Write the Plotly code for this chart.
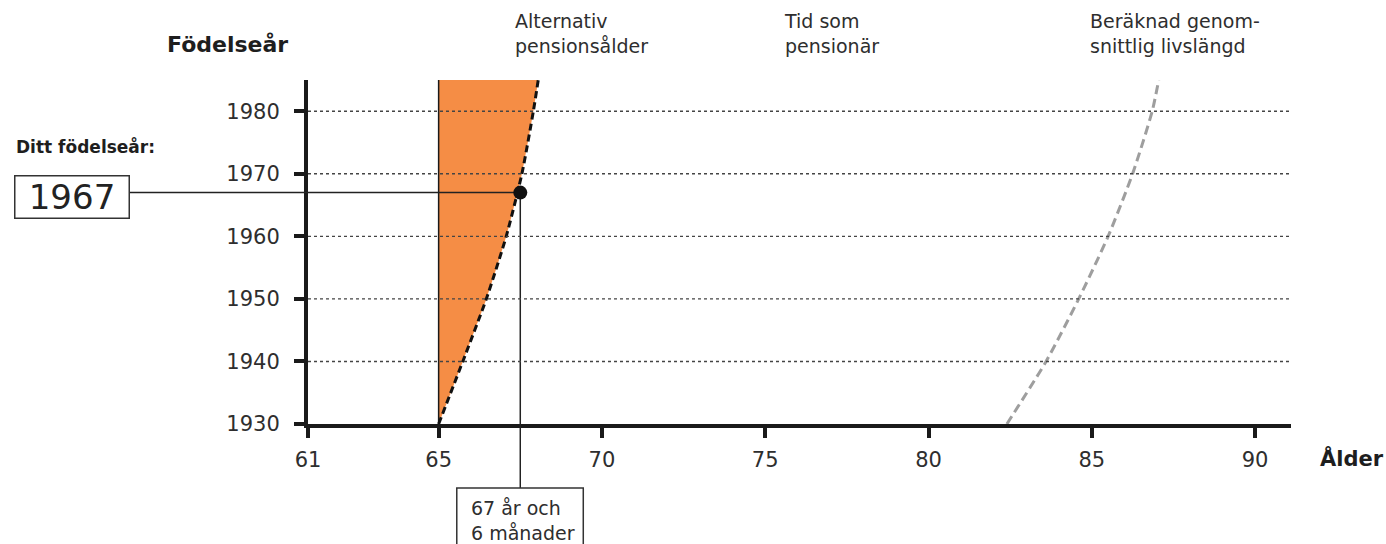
import plotly.graph_objects as go

# ---- data ----
birth_years = [1930, 1940, 1950, 1960, 1970, 1980, 1985]
alt_pension_age = [65.0, 65.74, 66.46, 67.07, 67.55, 67.9, 68.05]
life_expectancy = [82.4, 83.6, 84.6, 85.5, 86.25, 86.85, 87.05]
base_age = [65, 65, 65, 65, 65, 65, 65]

my_birth_year = 1967
my_pension_age = 67.5

x_ticks = [61, 65, 70, 75, 80, 85, 90]
y_ticks = [1930, 1940, 1950, 1960, 1970, 1980]
grid_years = [1940, 1950, 1960, 1970, 1980]

FONT = "DejaVu Sans"
TXT = "#2e2e2e"
ORANGE = "#F58D45"

fig = go.Figure()

# left edge of the orange area (thin vertical line at 65)
fig.add_trace(go.Scatter(x=base_age, y=birth_years, mode="lines",
                         line=dict(color="#1a1a1a", width=1.5),
                         hoverinfo="skip", showlegend=False))
# orange area between 65 and alternative pension age
fig.add_trace(go.Scatter(x=alt_pension_age, y=birth_years, mode="lines",
                         fill="tonextx", fillcolor=ORANGE,
                         line=dict(color="#111111", width=3, dash="7px,4px",
                                   shape="spline", smoothing=0.6),
                         hoverinfo="skip", showlegend=False))
# expected average life length
fig.add_trace(go.Scatter(x=life_expectancy, y=birth_years, mode="lines",
                         line=dict(color="#9e9e9e", width=3, dash="9px,5px",
                                   shape="spline", smoothing=0.6),
                         hoverinfo="skip", showlegend=False))
# connector lines inside the plot
fig.add_trace(go.Scatter(x=[x_ticks[0], my_pension_age, my_pension_age],
                         y=[my_birth_year, my_birth_year, y_ticks[0]],
                         mode="lines", line=dict(color="#222222", width=1.5),
                         hoverinfo="skip", showlegend=False))
# the dot
fig.add_trace(go.Scatter(x=[my_pension_age], y=[my_birth_year], mode="markers",
                         marker=dict(color="#111111", size=14),
                         hoverinfo="skip", showlegend=False))

shapes = []
for gy in grid_years:
    shapes.append(dict(type="line", xref="paper", x0=0, x1=1, yref="y", y0=gy, y1=gy,
                       line=dict(color="#444444", width=1.4, dash="dot"), layer="above"))
# connector parts outside the plot area
shapes.append(dict(type="line", xref="paper", xsizemode="pixel", xanchor=0, x0=-178, x1=0,
                   yref="y", y0=my_birth_year, y1=my_birth_year,
                   line=dict(color="#222222", width=1.5), layer="above"))
shapes.append(dict(type="line", xref="x", x0=my_pension_age, x1=my_pension_age,
                   yref="paper", ysizemode="pixel", yanchor=0, y0=0, y1=-64,
                   line=dict(color="#222222", width=1.5), layer="above"))
# box around "67 år och 6 månader"
shapes.append(dict(type="rect", xref="x", xsizemode="pixel", xanchor=my_pension_age,
                   x0=-63.5, x1=63, yref="paper", ysizemode="pixel", yanchor=0,
                   y0=-64, y1=-140, line=dict(color="#333333", width=1.5),
                   fillcolor="white", layer="above"))

annotations = [
    dict(text="Födelseår", xref="paper", yref="paper", x=-0.0183, y=1.102,
         xanchor="right", yanchor="middle", showarrow=False,
         font=dict(family=FONT, size=22, color="#1e1e1e", weight="bold")),
    dict(text="Ditt födelseår:", xref="paper", yref="paper", x=-0.299, y=0.808,
         xanchor="left", yanchor="middle", showarrow=False,
         font=dict(family=FONT, size=17, color="#1e1e1e", weight="bold")),
    dict(text="Ålder", xref="paper", yref="paper", x=1.0275, y=-0.099,
         xanchor="left", yanchor="middle", showarrow=False,
         font=dict(family=FONT, size=21, color="#1e1e1e", weight="bold")),
    dict(text=str(my_birth_year), xref="paper", yref="y", x=-0.1811, y=my_birth_year,
         xanchor="right", yanchor="middle", yshift=-4, showarrow=False,
         width=113, height=41, borderpad=0, borderwidth=1.5, bordercolor="#333333",
         bgcolor="white",
         font=dict(family=FONT, size=34, color="#222222")),
    dict(text="67 år och<br>6 månader", xref="x", yref="paper", x=my_pension_age, y=-0.2064,
         xanchor="left", xshift=-51, yanchor="top", showarrow=False, align="left",
         font=dict(family=FONT, size=19, color=TXT)),
    dict(text="Alternativ<br>pensionsålder", xref="paper", yref="paper", x=0.2085, y=1.209,
         xanchor="left", yanchor="top", showarrow=False, align="left",
         font=dict(family=FONT, size=19, color=TXT)),
    dict(text="Tid som<br>pensionär", xref="paper", yref="paper", x=0.4817, y=1.209,
         xanchor="left", yanchor="top", showarrow=False, align="left",
         font=dict(family=FONT, size=19, color=TXT)),
    dict(text="Beräknad genom-<br>snittlig livslängd", xref="paper", yref="paper", x=0.7935, y=1.209,
         xanchor="left", yanchor="top", showarrow=False, align="left",
         font=dict(family=FONT, size=19, color=TXT)),
]

fig.update_layout(
    width=1386, height=544,
    margin=dict(l=308, r=95, t=80, b=120),
    paper_bgcolor="white", plot_bgcolor="white",
    shapes=shapes, annotations=annotations,
    showlegend=False, hovermode=False,
    xaxis=dict(range=[61, 91.1], tickvals=x_ticks, ticktext=[str(v) for v in x_ticks],
               showgrid=False, zeroline=False, showline=True, linecolor="#1a1a1a", linewidth=4,
               ticks="outside", ticklen=10, tickwidth=4, tickcolor="#1a1a1a",
               ticklabelstandoff=4, fixedrange=True,
               tickfont=dict(family=FONT, size=21, color=TXT), layer="above traces"),
    yaxis=dict(range=[1930, 1985], tickvals=y_ticks, ticktext=[str(v) for v in y_ticks],
               showgrid=False, zeroline=False, showline=True, linecolor="#1a1a1a", linewidth=4,
               ticks="outside", ticklen=10, tickwidth=4, tickcolor="#1a1a1a",
               ticklabelstandoff=10, fixedrange=True,
               tickfont=dict(family=FONT, size=21, color=TXT), layer="above traces"),
)

fig.write_html("out.html", config={"displayModeBar": False},
               post_script="document.body.style.margin='0';document.body.style.overflow='hidden';")
